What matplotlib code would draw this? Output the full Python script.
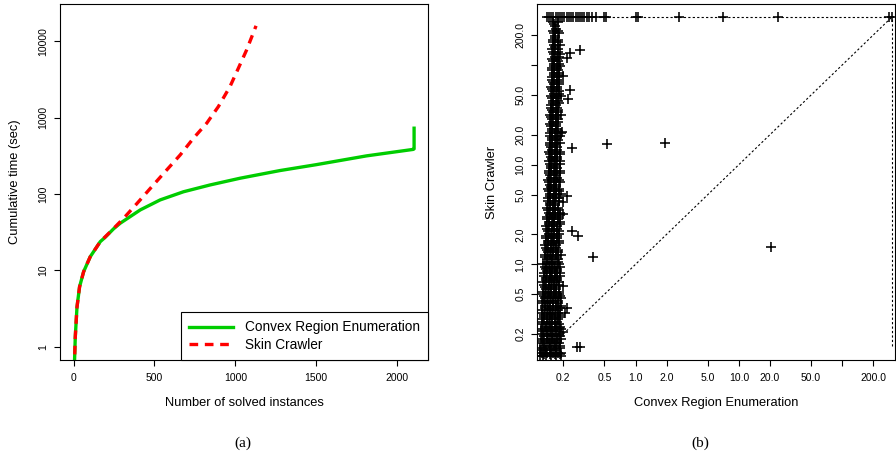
import matplotlib
matplotlib.use("Agg")
import matplotlib.pyplot as plt

plt.rcParams["font.family"] = ["Liberation Sans", "DejaVu Sans"]

# (a) cumulative time curves
cre_solved = [1, 6, 10.5, 21, 37, 62, 103, 165, 196, 247, 288, 412, 535, 679, 844, 1029,
              1276, 1498, 1811, 2099, 2105, 2105]
cre_time = [0.5, 0.67, 1.35, 3.3, 6.1, 9.6, 15.1, 23.8, 27.2, 35.0, 41.4, 61.9, 83.7, 107,
            131.5, 161, 203, 242, 316, 384, 390, 728]

sc_solved = [1, 6, 10.5, 21, 37, 62, 103, 165, 227, 309, 401, 484, 566, 659, 741, 823, 895,
             967, 1019, 1070, 1128]
sc_time = [0.5, 0.67, 1.35, 3.3, 6.1, 9.6, 15.1, 23.8, 32, 48, 79, 125, 196, 325, 538, 847,
           1396, 2557, 4456, 7740, 15960]

# (b) dense band of fast instances: Skin Crawler time level -> CRE times at that level
band_levels = [0.12, 0.13, 0.145, 0.162, 0.18, 0.2, 0.225, 0.25, 0.28, 0.31, 0.345, 0.385,
               0.43, 0.48, 0.53, 0.59, 0.66, 0.73, 0.81, 0.9, 1.0, 1.12, 1.25, 1.4, 1.55,
               1.72, 1.92, 2.15, 2.4, 2.67, 2.97, 3.3, 3.7, 4.1, 4.6, 5.1, 5.7, 6.3, 7.0,
               7.8, 8.7, 9.7, 10.8, 12.0, 13.4, 14.9, 16.6, 18.5, 20.6, 23.0, 25.6, 28.5,
               31.7, 35.3, 39.3, 43.8, 48.8, 54.3, 60.5, 67.4, 75.0, 83.5, 93.0, 103.0,
               115.0, 128.0, 143.0, 159.0, 177.0, 197.0, 219.0, 244.0, 270.0]
band_cre = [
    [0.12, 0.127, 0.135, 0.152, 0.17, 0.19],
    [0.124, 0.14, 0.158, 0.178],
    [0.12, 0.133, 0.15, 0.168, 0.186],
    [0.127, 0.145, 0.162, 0.181],
    [0.122, 0.138, 0.155, 0.174, 0.19],
    [0.126, 0.143, 0.16, 0.18],
    [0.121, 0.136, 0.152, 0.17, 0.188],
    [0.128, 0.146, 0.165, 0.183],
    [0.123, 0.14, 0.157, 0.176],
    [0.13, 0.148, 0.167, 0.187],
    [0.125, 0.142, 0.16, 0.179],
    [0.132, 0.15, 0.17, 0.19],
    [0.124, 0.14, 0.158, 0.177],
    [0.13, 0.147, 0.166, 0.185],
    [0.126, 0.143, 0.161, 0.18],
    [0.133, 0.151, 0.17],
    [0.128, 0.145, 0.163, 0.183],
    [0.135, 0.153, 0.172],
    [0.13, 0.147, 0.166, 0.186],
    [0.137, 0.155, 0.175],
    [0.128, 0.145, 0.163, 0.182],
    [0.138, 0.156, 0.176],
    [0.132, 0.149, 0.168, 0.188],
    [0.14, 0.158, 0.178],
    [0.134, 0.151, 0.17],
    [0.142, 0.16, 0.181],
    [0.136, 0.153, 0.172],
    [0.143, 0.162, 0.183],
    [0.137, 0.155, 0.175],
    [0.145, 0.164, 0.185],
    [0.139, 0.157, 0.177],
    [0.146, 0.165, 0.186],
    [0.14, 0.158, 0.179],
    [0.147, 0.167],
    [0.141, 0.16, 0.181],
    [0.148, 0.168, 0.188],
    [0.142, 0.161, 0.18],
    [0.149, 0.169],
    [0.143, 0.162, 0.183],
    [0.15, 0.17],
    [0.144, 0.163, 0.184],
    [0.151, 0.171],
    [0.145, 0.164, 0.185],
    [0.152, 0.172],
    [0.146, 0.165, 0.186],
    [0.153, 0.173],
    [0.147, 0.166, 0.187],
    [0.154, 0.174],
    [0.148, 0.167, 0.188],
    [0.155, 0.175],
    [0.149, 0.168],
    [0.156, 0.177],
    [0.15, 0.169, 0.188],
    [0.157, 0.178],
    [0.151, 0.17],
    [0.158, 0.179],
    [0.152, 0.171, 0.19],
    [0.159, 0.18],
    [0.153, 0.172],
    [0.16, 0.181],
    [0.154, 0.173],
    [0.161, 0.182],
    [0.155, 0.174],
    [0.162, 0.183],
    [0.156, 0.175],
    [0.163, 0.184],
    [0.157, 0.176],
    [0.164, 0.185],
    [0.158, 0.177],
    [0.165],
    [0.159, 0.178],
    [0.166],
    [0.16, 0.178],
]

# second, staggered layer of the same band (fills the gaps between the rows above)
band_levels_b = [0.125, 0.137, 0.153, 0.171, 0.19, 0.212, 0.237, 0.265, 0.295, 0.327, 0.365,
                 0.407, 0.455, 0.505, 0.56, 0.625, 0.695, 0.77, 0.855, 0.95, 1.06, 1.18, 1.32,
                 1.47, 1.63, 1.82, 2.03, 2.27, 2.53, 2.82, 3.13, 3.5, 3.9, 4.35, 4.85, 5.4,
                 6.0, 6.65, 7.4, 8.25, 9.2, 10.25, 11.4, 12.7, 14.15, 15.75, 17.5, 19.5, 21.8,
                 24.3, 27.0, 30.1, 33.5, 37.3, 41.5, 46.2, 51.5, 57.3, 63.9, 71.1, 79.2, 88.1,
                 98.0, 109.0, 121.5, 135.5, 151.0, 168.0, 187.0, 208.0, 231.0, 257.0]
band_cre_b = [
    [0.13, 0.147, 0.165, 0.184], [0.122, 0.137, 0.153, 0.171], [0.131, 0.148, 0.166, 0.185],
    [0.123, 0.139, 0.156, 0.173], [0.13, 0.147, 0.165, 0.184], [0.124, 0.14, 0.157, 0.175],
    [0.132, 0.149, 0.167, 0.186], [0.123, 0.138, 0.155, 0.174], [0.131, 0.148, 0.166, 0.185],
    [0.125, 0.14, 0.157, 0.176], [0.133, 0.15, 0.168, 0.187], [0.127, 0.143, 0.16, 0.179],
    [0.134, 0.151, 0.17, 0.188], [0.128, 0.144, 0.161, 0.18], [0.135, 0.152, 0.171],
    [0.129, 0.145, 0.162, 0.181], [0.136, 0.154, 0.173], [0.131, 0.148, 0.166, 0.185],
    [0.138, 0.156, 0.175], [0.132, 0.149, 0.167, 0.187], [0.139, 0.157, 0.176],
    [0.134, 0.151, 0.169], [0.141, 0.159, 0.179], [0.135, 0.152, 0.171], [0.143, 0.161, 0.18],
    [0.137, 0.154, 0.173], [0.144, 0.163, 0.182], [0.138, 0.156, 0.175], [0.145, 0.164, 0.184],
    [0.14, 0.158, 0.177], [0.147, 0.166, 0.186], [0.141, 0.16, 0.179], [0.148, 0.167],
    [0.143, 0.162, 0.182], [0.15, 0.169], [0.144, 0.163, 0.183], [0.151, 0.171],
    [0.145, 0.164, 0.184], [0.152, 0.172], [0.146, 0.165, 0.185], [0.153, 0.173],
    [0.147, 0.166, 0.186], [0.154, 0.174], [0.148, 0.167, 0.187], [0.155, 0.175],
    [0.149, 0.168], [0.156, 0.176], [0.15, 0.169, 0.187], [0.157, 0.177], [0.151, 0.17],
    [0.158, 0.178], [0.152, 0.171], [0.159, 0.179], [0.153, 0.172], [0.16, 0.18],
    [0.154, 0.173], [0.161, 0.181], [0.155, 0.174], [0.162, 0.182], [0.156, 0.175],
    [0.163, 0.183], [0.157, 0.176], [0.164, 0.184], [0.158, 0.177], [0.165, 0.183],
    [0.159, 0.178], [0.166], [0.16, 0.179], [0.167], [0.161, 0.18], [0.168], [0.162],
]

# instances where Skin Crawler hit the 300 s limit
timeout_x = [0.138, 0.145, 0.152, 0.16, 0.168, 0.176, 0.185, 0.195, 0.205, 0.215, 0.226,
             0.238, 0.25, 0.263, 0.276, 0.29, 0.305, 0.32, 0.337, 0.355, 0.377, 0.415,
             0.5, 0.52, 1.0, 1.06, 2.65, 6.98, 24.1, 285, 300]
time_limit = 300

outlier_x = [0.29, 0.23, 0.215, 0.2, 0.23, 0.22, 0.193, 0.24, 0.526, 1.93, 0.218, 0.2, 0.2,
             0.24, 0.28, 0.385, 20.4, 0.2, 0.215, 0.207, 0.2, 0.27, 0.29, 0.19]
outlier_y = [140, 133, 117, 77, 56, 46, 21.4, 14.8, 16.1, 16.4, 4.9, 4.2, 3.2,
             2.16, 1.94, 1.19, 1.49, 0.61, 0.363, 0.323, 0.21, 0.149, 0.149, 0.13]

line_lo = 0.15

log_ticks = [0.2, 0.5, 1, 2, 5, 10, 20, 50, 100, 200]
log_labels = ["0.2", "0.5", "1.0", "2.0", "5.0", "10.0", "20.0", "50.0", "", "200.0"]


def r_style(ax):
    for s in ax.spines.values():
        s.set_linewidth(0.8)
    ax.tick_params(direction="out", length=4.3, width=0.8, labelsize=7.5, pad=5)
    ax.tick_params(axis="y", pad=4)
    for lbl in ax.get_yticklabels():
        lbl.set_rotation(90)
        lbl.set_va("center")


def flatten_band(levels, rows):
    xs_out = []
    ys_out = []
    for level, xs in zip(levels, rows):
        xs_out += xs
        ys_out += [level] * len(xs)
    return xs_out, ys_out


def main():
    fig = plt.figure(figsize=(8.96, 4.59), dpi=100)

    # (a)
    ax1 = fig.add_axes([60 / 896, 99 / 459, 368 / 896, 355.7 / 459])
    ax1.plot(cre_solved, cre_time, color="#00cd00", lw=2.4, label="Convex Region Enumeration")
    ax1.plot(sc_solved, sc_time, color="red", lw=2.4, dashes=(2.6, 2.0), label="Skin Crawler")
    ax1.set_yscale("log")
    ax1.set_xlim(-84, 2191)
    ax1.set_ylim(0.67, 30550)
    ax1.set_xticks([0, 500, 1000, 1500, 2000])
    ax1.set_yticks([1, 10, 100, 1000, 10000])
    ax1.set_yticklabels(["1", "10", "100", "1000", "10000"])
    ax1.minorticks_off()
    r_style(ax1)
    ax1.set_xlabel("Number of solved instances", fontsize=9.3)
    ax1.set_ylabel("Cumulative time (sec)", fontsize=9.3)
    ax1.xaxis.set_label_coords(0.5, -0.104)
    ax1.yaxis.set_label_coords(-0.105, 0.5)
    leg = ax1.legend(loc="lower right", borderaxespad=0, fancybox=False, framealpha=1,
                     edgecolor="black", fontsize=9.8, handlelength=3.2, handletextpad=0.9,
                     labelspacing=0.25, borderpad=0.6)
    leg.get_frame().set_linewidth(0.8)

    # (b)
    band_x, band_y = flatten_band(band_levels, band_cre)
    band_xb, band_yb = flatten_band(band_levels_b, band_cre_b)

    ax2 = fig.add_axes([536.7 / 896, 99 / 459, 358.3 / 896, 355.7 / 459])
    ax2.set_xscale("log")
    ax2.set_yscale("log")
    ax2.plot([line_lo, time_limit], [line_lo, time_limit], color="black", lw=0.8, ls=(0, (2, 2)))
    ax2.plot([line_lo, time_limit], [time_limit, time_limit], color="black", lw=0.8, ls=(0, (2, 2)))
    ax2.plot([time_limit, time_limit], [line_lo, time_limit], color="black", lw=0.8, ls=(0, (2, 2)))
    mk = dict(ls="none", marker="+", ms=6.5, mew=1.15, color="black")
    ax2.plot(band_x, band_y, **mk)
    ax2.plot(band_xb, band_yb, **mk)
    ax2.plot(timeout_x, [time_limit] * len(timeout_x), **mk)
    ax2.plot(outlier_x, outlier_y, **mk)
    ax2.set_xlim(0.1105, 324)
    ax2.set_ylim(0.1096, 406)
    ax2.set_xticks(log_ticks)
    ax2.set_xticklabels(log_labels)
    ax2.set_yticks(log_ticks)
    ax2.set_yticklabels(log_labels)
    ax2.minorticks_off()
    r_style(ax2)
    ax2.set_xlabel("Convex Region Enumeration", fontsize=9.3)
    ax2.set_ylabel("Skin Crawler", fontsize=9.3)
    ax2.xaxis.set_label_coords(0.5, -0.104)
    ax2.yaxis.set_label_coords(-0.107, 0.5)

    fig.text(243 / 896, 1 - 443 / 459, "(a)", ha="center", va="center", fontsize=11,
             family="Liberation Serif")
    fig.text(700 / 896, 1 - 443 / 459, "(b)", ha="center", va="center", fontsize=11,
             family="Liberation Serif")

    fig.savefig("out.png", dpi=100)


if __name__ == "__main__":
    main()
